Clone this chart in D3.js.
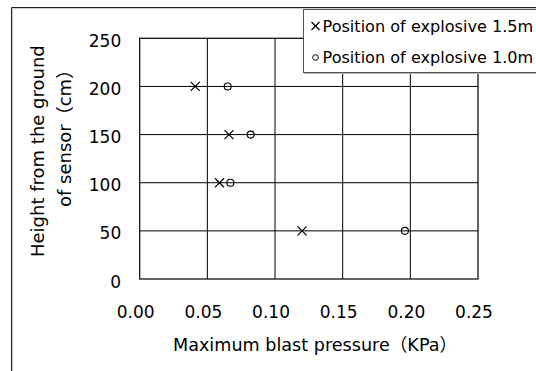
<!DOCTYPE html>
<html>
<head>
<meta charset="utf-8">
<script src="https://cdn.jsdelivr.net/npm/d3@7"></script>
<style>
  body { margin: 0; background: #fff; }
  text { font-family: "DejaVu Sans", "Noto Sans CJK JP", sans-serif; fill: #000; }
</style>
</head>
<body>
<svg width="536" height="371"></svg>
<script>
// Sensor heights (cm) and max blast pressure (KPa)
let heights = [50, 100, 150, 200];
let pressure15 = [0.120, 0.059, 0.066, 0.041];  // explosive at 1.5m
let pressure10 = [0.196, 0.067, 0.082, 0.065];  // explosive at 1.0m
let xTicks = [0, 0.05, 0.10, 0.15, 0.20, 0.25];
let yTicks = [0, 50, 100, 150, 200, 250];
let legendLabels = ['Position of explosive 1.5m', 'Position of explosive 1.0m'];

let svg = d3.select('svg');

// plot box
let plotLeft = 139.7, plotRight = 478, plotTop = 38.3, plotBottom = 279;

let x = d3.scaleLinear().domain([0, 0.25]).range([plotLeft, plotRight]);
let y = d3.scaleLinear().domain([0, 250]).range([plotBottom, plotTop]);

// outer chart frame (top and left edges visible)
svg.append('path')
  .attr('d', 'M11.5,371V7.5H536')
  .attr('fill', 'none')
  .attr('stroke', '#222');
svg.append('path')
  .attr('d', 'M12.5,371V8.5H536')
  .attr('fill', 'none')
  .attr('stroke', '#ccc');

// gridlines
svg.append('g')
  .selectAll('line')
  .data(yTicks.slice(1, -1))
  .enter().append('line')
    .attr('x1', plotLeft).attr('x2', plotRight)
    .attr('y1', d => y(d)).attr('y2', d => y(d))
    .attr('stroke', '#000');

svg.append('g')
  .selectAll('line')
  .data(xTicks.slice(1, -1))
  .enter().append('line')
    .attr('x1', d => x(d)).attr('x2', d => x(d))
    .attr('y1', plotTop).attr('y2', plotBottom)
    .attr('stroke', '#000');

svg.append('rect')
  .attr('x', plotLeft).attr('y', plotTop)
  .attr('width', plotRight - plotLeft).attr('height', plotBottom - plotTop)
  .attr('fill', 'none')
  .attr('stroke', '#000')
  .attr('stroke-width', 1.2);

// axes (labels only, lines drawn by box above)
let xAxis = svg.append('g')
  .attr('transform', 'translate(0,' + plotBottom + ')')
  .call(d3.axisBottom(x).tickValues(xTicks).tickFormat(d3.format('.2f')).tickSize(0));
xAxis.select('.domain').remove();
xAxis.selectAll('text')
  .attr('y', 39)
  .attr('dx', -4.5)
  .attr('dy', 0)
  .style('font-size', '17px')
  .style('font-family', '"DejaVu Sans", sans-serif');

let yAxis = svg.append('g')
  .attr('transform', 'translate(' + plotLeft + ',0)')
  .call(d3.axisLeft(y).tickValues(yTicks).tickSize(0));
yAxis.select('.domain').remove();
yAxis.selectAll('text')
  .attr('x', -18.5)
  .attr('dy', '0.47em')
  .style('font-size', '17px')
  .style('font-family', '"DejaVu Sans", sans-serif');

// axis titles
svg.append('text')
  .attr('x', 173)
  .attr('y', 350.5)
  .style('font-size', '17.6px')
  .text('Maximum blast pressure（KPa）');

svg.append('text')
  .attr('transform', 'translate(43.5,257) rotate(-90)')
  .style('font-size', '18px')
  .text('Height from the ground');

svg.append('text')
  .attr('transform', 'translate(71,207) rotate(-90)')
  .style('font-size', '18px')
  .text('of sensor（cm）');

// markers
function cross(g, cx, cy, h) {
  g.append('path')
    .attr('d', `M${cx - h},${cy - h}L${cx + h},${cy + h}M${cx - h},${cy + h}L${cx + h},${cy - h}`)
    .attr('stroke', '#000')
    .attr('stroke-width', 1.2)
    .attr('fill', 'none');
}

let marks = svg.append('g');
heights.forEach((h, i) => {
  cross(marks, x(pressure15[i]), y(h), 4.5);
});
marks.selectAll('circle')
  .data(heights)
  .enter().append('circle')
    .attr('cx', (d, i) => x(pressure10[i]))
    .attr('cy', d => y(d))
    .attr('r', 3.5)
    .attr('fill', 'none')
    .attr('stroke', '#000')
    .attr('stroke-width', 1.1);

// legend
let legend = svg.append('g');
legend.append('rect')
  .attr('x', 303.5).attr('y', 9.5)
  .attr('width', 240).attr('height', 63)
  .attr('fill', '#fff')
  .attr('stroke', '#555');
legend.append('line')
  .attr('x1', 304).attr('x2', 536)
  .attr('y1', 73.5).attr('y2', 73.5)
  .attr('stroke', '#bbb');

legend.selectAll('text')
  .data(legendLabels)
  .enter().append('text')
    .attr('x', 322.5)
    .attr('y', (d, i) => 26 + i * 31.5)
    .attr('dy', '0.36em')
    .style('font-size', '16.1px')
    .text(d => d);

cross(legend, 315.5, 26, 4);
legend.append('circle')
  .attr('cx', 315.5).attr('cy', 57.5)
  .attr('r', 2.8)
  .attr('fill', 'none')
  .attr('stroke', '#000');
</script>
</body>
</html>
